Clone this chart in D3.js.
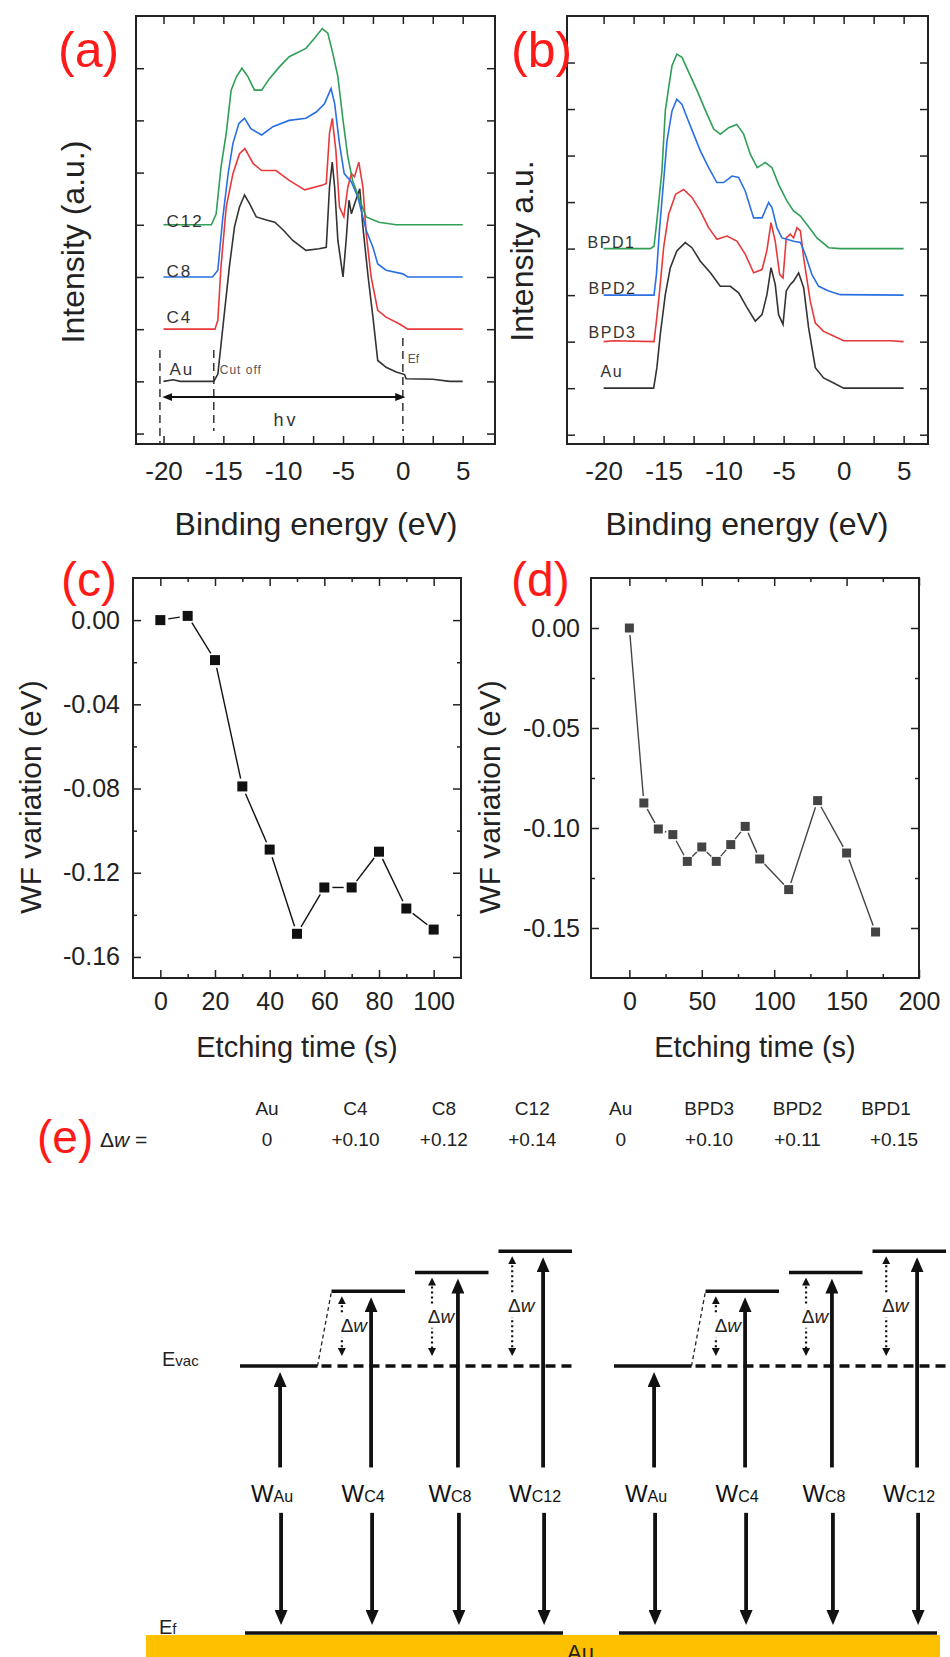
<!DOCTYPE html>
<html>
<head>
<meta charset="utf-8">
<script src="https://cdn.jsdelivr.net/npm/d3@7"></script>
<style>
  body { margin: 0; background: #fff; }
  svg text { font-family: "Liberation Sans", Arial, sans-serif; }
</style>
</head>
<body>
<div id="chart"></div>
<script>
const WIDTH = 950;
const HEIGHT = 1657;

// ---- (a) UPS spectra : [binding energy (eV), intensity (offset, a.u.)]
const auA = [[-20,1.0],[-19.2,1.03],[-18.6,1.0],[-15.8,1.0],[-15.46,1.14],[-15.04,2.04],[-14.5,3.19],[-14.07,3.96],[-13.65,4.34],[-13.23,4.57],[-12.8,4.4],[-12.25,4.15],[-11.4,4.09],[-10.7,4.05],[-10.0,3.9],[-9.2,3.7],[-8.1,3.51],[-7.0,3.54],[-6.4,3.57],[-6.13,4.72],[-5.9,5.2],[-5.7,4.72],[-5.43,3.7],[-5.0,3.0],[-4.74,3.7],[-4.5,4.47],[-4.3,4.21],[-4.04,4.4],[-3.6,4.69],[-3.34,3.96],[-2.9,3.0],[-2.5,2.23],[-2.1,1.4],[-1.4,1.27],[-0.56,1.18],[0.14,1.13],[0.28,1.05],[2.5,1.04],[3.9,1.0],[5,1.0]];
const c4A = [[-20,2],[-15.7,2],[-15.46,2.17],[-15.2,3.19],[-14.76,4.34],[-14.2,4.98],[-13.65,5.36],[-13.2,5.46],[-12.5,5.17],[-11.8,5.04],[-10.6,5.04],[-9.5,4.85],[-8.2,4.67],[-6.7,4.76],[-6.4,4.79],[-6.13,5.75],[-5.9,6.04],[-5.6,5.43],[-5.3,4.34],[-4.93,4.15],[-4.6,4.72],[-4.3,4.98],[-4.04,4.92],[-3.68,5.2],[-3.34,4.72],[-3.06,3.83],[-2.65,3.0],[-2.1,2.36],[-1.4,2.23],[-0.28,2.1],[0.42,2.0],[5,2.0]];
const c8A = [[-20,3],[-15.9,3],[-15.46,3.13],[-15.04,4.15],[-14.6,4.98],[-14.2,5.56],[-13.7,5.94],[-13.23,6.04],[-12.7,5.84],[-11.8,5.72],[-10.86,5.88],[-9.5,6.0],[-8.1,6.04],[-7.24,6.16],[-6.55,6.32],[-6.0,6.61],[-5.7,6.32],[-5.3,5.56],[-4.9,4.98],[-4.3,4.82],[-3.76,4.53],[-3.34,4.15],[-3.06,3.89],[-2.5,3.57],[-2.1,3.25],[-1.4,3.13],[0,3.06],[0.42,3.0],[5,3.0]];
const c12A = [[-20,4],[-16,4],[-15.6,4.21],[-15.2,5.1],[-14.76,5.75],[-14.35,6.58],[-13.9,6.84],[-13.45,7.0],[-12.95,6.84],[-12.4,6.58],[-11.8,6.58],[-11.15,6.8],[-10.3,7.03],[-9.5,7.22],[-8.1,7.38],[-7.4,7.57],[-6.74,7.76],[-6.27,7.67],[-5.85,7.28],[-5.43,6.84],[-5.0,6.0],[-4.6,5.3],[-4.2,4.85],[-3.6,4.47],[-3.06,4.15],[-2.0,4.05],[-0.56,4.0],[5,4.0]];
const labelsA = ["Au", "C4", "C8", "C12"];

// ---- (b) UPS spectra
const auB = [[-20,1.0],[-15.83,1.0],[-15.56,1.44],[-15.28,2.15],[-14.86,3.01],[-14.44,3.59],[-13.9,3.95],[-13.2,4.13],[-12.64,4.02],[-11.94,3.73],[-11.1,3.48],[-10.28,3.19],[-9.44,3.19],[-8.75,3.05],[-8.05,2.73],[-7.36,2.44],[-6.8,2.58],[-6.39,3.01],[-6.05,3.59],[-5.7,3.23],[-5.42,2.58],[-5.05,2.37],[-4.78,3.09],[-4.44,3.23],[-4.17,3.3],[-3.75,3.48],[-3.33,3.16],[-2.92,2.3],[-2.36,1.44],[-1.67,1.22],[-0.83,1.11],[0,1.0],[5,1.0]];
const bpd3B = [[-20,2.0],[-19.2,2.02],[-15.8,2.0],[-15.6,2.44],[-15.33,3.09],[-15.0,4.02],[-14.58,4.74],[-14.0,5.17],[-13.33,5.27],[-12.64,5.1],[-11.94,4.81],[-11.25,4.45],[-10.56,4.2],[-9.72,4.27],[-8.9,4.16],[-8.2,3.88],[-7.5,3.48],[-6.8,3.55],[-6.4,3.95],[-6.05,4.56],[-5.7,4.16],[-5.33,3.44],[-5.05,3.37],[-4.78,4.23],[-4.44,4.31],[-4.17,4.23],[-3.89,4.45],[-3.6,4.38],[-3.33,3.8],[-2.78,2.87],[-2.36,2.4],[-1.67,2.22],[-0.83,2.12],[0,2.02],[3.9,2.02],[5,2.0]];
const bpd2B = [[-20,3.0],[-15.8,3.0],[-15.6,3.44],[-15.33,4.45],[-15.0,5.45],[-14.72,6.31],[-14.3,6.96],[-13.9,7.21],[-13.47,7.1],[-13.05,6.82],[-12.5,6.46],[-11.94,6.1],[-11.25,5.74],[-10.56,5.42],[-10.0,5.42],[-9.3,5.56],[-8.75,5.53],[-8.2,5.24],[-7.5,4.66],[-6.8,4.66],[-6.25,4.99],[-5.97,4.88],[-5.56,4.45],[-5.14,4.23],[-4.72,4.2],[-4.17,4.16],[-3.6,4.13],[-3.2,3.88],[-2.64,3.44],[-2.08,3.19],[-1.25,3.09],[-0.28,3.01],[5,3.0]];
const bpd1B = [[-20,4.0],[-16.1,4.0],[-15.8,4.05],[-15.56,4.6],[-15.14,5.67],[-14.86,6.96],[-14.58,7.46],[-14.3,7.93],[-13.9,8.18],[-13.47,8.11],[-12.9,7.79],[-12.2,7.39],[-11.5,6.96],[-10.83,6.57],[-10.28,6.46],[-9.58,6.6],[-8.9,6.67],[-8.33,6.46],[-7.78,6.03],[-7.2,5.74],[-6.53,5.85],[-5.97,5.74],[-5.42,5.38],[-4.72,5.02],[-4.17,4.81],[-3.6,4.7],[-3.06,4.52],[-2.22,4.23],[-1.25,4.02],[-0.28,4.0],[5,4.0]];
const labelsB = ["Au", "BPD3", "BPD2", "BPD1"];

const energyTicks = [-20, -15, -10, -5, 0, 5];
const energyMinor = [-17.5, -12.5, -7.5, -2.5, 2.5];

// ---- (c) WF variation vs etching time
const etchC = [0, 10, 20, 30, 40, 50, 60, 70, 80, 90, 100];
const wfC = [0.000, 0.002, -0.019, -0.079, -0.109, -0.149, -0.127, -0.127, -0.110, -0.137, -0.147];
const timeTicksC = [0, 20, 40, 60, 80, 100];
const wfTicksC = [0, -0.04, -0.08, -0.12, -0.16];

// ---- (d)
const etchD = [0, 10, 20, 30, 40, 50, 60, 70, 80, 90, 110, 130, 150, 170];
const wfD = [0.000, -0.0875, -0.1005, -0.1033, -0.1167, -0.1095, -0.1167, -0.1083, -0.0992, -0.1155, -0.1308, -0.0863, -0.1125, -0.152];
const timeTicksD = [0, 50, 100, 150, 200];
const wfTicksD = [0, -0.05, -0.10, -0.15];

// ---- (e) work function shifts
const eNames = ["Au", "C4", "C8", "C12", "Au", "BPD3", "BPD2", "BPD1"];
const eDelta = ["0", "+0.10", "+0.12", "+0.14", "0", "+0.10", "+0.11", "+0.15"];
const wSubs = ["Au", "C4", "C8", "C12"];
const evacLevel = [1, 1.28, 1.35, 1.43];   // schematic vacuum levels (Ef = 0, Evac(Au) = 1)

const curveColors = ["#333333", "#e8393a", "#2a6fe4", "#2f9f57"];
const RED = "#ff1a1a";

let svg = d3.select("#chart")
    .append("svg")
    .attr("width", WIDTH)
    .attr("height", HEIGHT);

let defs = svg.append("defs");

function addMarker(id, len, wid, refX) {
    defs.append("marker")
        .attr("id", id)
        .attr("viewBox", `0 0 ${len} ${wid}`)
        .attr("refX", refX)
        .attr("refY", wid / 2)
        .attr("markerWidth", len)
        .attr("markerHeight", wid)
        .attr("markerUnits", "userSpaceOnUse")
        .attr("orient", "auto-start-reverse")
        .append("path")
        .attr("d", `M0,0L${len},${wid / 2}L0,${wid}Z`)
        .attr("fill", "#111");
}
addMarker("ah", 15, 13, 6);
addMarker("ahs", 8, 8, 4);
addMarker("ahm", 10, 8, 4);

// frame with inward ticks on all four sides
function frame(g, x, y, o) {
    const [x0, x1] = x.range();
    const [y0, y1] = y.range();

    const style = sel => {
        sel.select(".domain").remove();
        sel.selectAll("line").attr("stroke", "#222").attr("stroke-width", 1.5);
        sel.attr("font-family", "'Liberation Sans', Arial, sans-serif")
            .attr("font-size", o.fontSize || 26)
            .attr("fill", "#222");
        sel.selectAll("text").attr("fill", "#222");
    };

    g.append("g").attr("transform", `translate(0,${y0})`)
        .call(d3.axisBottom(x).tickValues(o.xMajor).tickSizeInner(-8).tickSizeOuter(0)
            .tickPadding(o.xPad).tickFormat(o.xFormat))
        .call(style);
    g.append("g").attr("transform", `translate(0,${y1})`)
        .call(d3.axisTop(x).tickValues(o.xMajor).tickSizeInner(-8).tickSizeOuter(0).tickFormat(""))
        .call(style);
    g.append("g").attr("transform", `translate(${x0},0)`)
        .call(d3.axisLeft(y).tickValues(o.yMajor).tickSizeInner(-8).tickSizeOuter(0)
            .tickPadding(o.yPad || 12).tickFormat(o.yFormat || ""))
        .call(style);
    g.append("g").attr("transform", `translate(${x1},0)`)
        .call(d3.axisRight(y).tickValues(o.yMajor).tickSizeInner(-8).tickSizeOuter(0).tickFormat(""))
        .call(style);

    if (o.xMinor) {
        [[y0, d3.axisBottom], [y1, d3.axisTop]].forEach(([yy, ax]) => {
            g.append("g").attr("transform", `translate(0,${yy})`)
                .call(ax(x).tickValues(o.xMinor).tickSizeInner(o.minorLen || -8).tickSizeOuter(0).tickFormat(""))
                .call(style);
        });
    }
    if (o.yMinor) {
        [[x0, d3.axisLeft], [x1, d3.axisRight]].forEach(([xx, ax]) => {
            g.append("g").attr("transform", `translate(${xx},0)`)
                .call(ax(y).tickValues(o.yMinor).tickSizeInner(o.minorLen || -8).tickSizeOuter(0).tickFormat(""))
                .call(style);
        });
    }

    g.append("rect")
        .attr("x", x0).attr("y", y1)
        .attr("width", x1 - x0).attr("height", y0 - y1)
        .attr("fill", "none")
        .attr("stroke", "#222")
        .attr("stroke-width", 2);
}

function axisTitle(x, y, text, size, rotate) {
    svg.append("text")
        .attr("transform", `translate(${x},${y})` + (rotate ? " rotate(-90)" : ""))
        .attr("text-anchor", "middle")
        .attr("font-size", size)
        .attr("fill", "#222")
        .text(text);
}

function panelLabel(x, y, text, size) {
    svg.append("text")
        .attr("x", x).attr("y", y)
        .attr("font-family", "Lato, 'Noto Sans', sans-serif")
        .attr("font-size", size)
        .attr("fill", RED)
        .text(text);
}

// ================= (a) =================
let xA = d3.scaleLinear().domain([-22.3, 7.7]).range([136, 495]);
let yA = d3.scaleLinear().domain([-0.2, 8.0]).range([444, 16]);
let gA = svg.append("g");

let lineA = d3.line().x(d => xA(d[0])).y(d => yA(d[1]));
[auA, c4A, c8A, c12A].forEach((s, i) => {
    gA.append("path")
        .attr("d", lineA(s))
        .attr("fill", "none")
        .attr("stroke", curveColors[i])
        .attr("stroke-width", 1.6);
});

// curve names
const dyA = [-6, -6, 0, 2];
[auA, c4A, c8A, c12A].forEach((s, i) => {
    gA.append("text")
        .attr("x", xA(s[0][0]) + (i === 0 ? 6 : 3))
        .attr("y", yA(s[0][1]) + dyA[i])
        .attr("font-size", 17)
        .attr("letter-spacing", 2)
        .attr("fill", "#333")
        .text(labelsA[i]);
});

// cut-off / Fermi edge annotations
[[-20.3, -0.2], [-15.8, 0.05], [0, 0.05]].forEach(([e, bot], i) => {
    gA.append("line")
        .attr("x1", xA(e)).attr("x2", xA(e))
        .attr("y1", yA(i === 2 ? 1.83 : 1.6)).attr("y2", yA(bot))
        .attr("stroke", "#333")
        .attr("stroke-width", 1.5)
        .attr("stroke-dasharray", "8,5");
});
gA.append("line")
    .attr("x1", xA(-19.6)).attr("x2", xA(-0.3))
    .attr("y1", yA(0.7)).attr("y2", yA(0.7))
    .attr("stroke", "#111")
    .attr("stroke-width", 2)
    .attr("marker-start", "url(#ahm)")
    .attr("marker-end", "url(#ahm)");
gA.append("text").attr("x", xA(-15.3)).attr("y", yA(1.15))
    .attr("font-size", 12).attr("letter-spacing", 1).attr("fill", "#555").text("Cut off");
gA.append("text").attr("x", xA(0.4)).attr("y", yA(1.35))
    .attr("font-size", 12).attr("fill", "#555").text("Ef");
gA.append("text").attr("x", xA(-10.8)).attr("y", yA(0.15))
    .attr("font-size", 18).attr("letter-spacing", 3).attr("fill", "#333").text("hv");

frame(gA, xA, yA, {
    xMajor: energyTicks, xMinor: energyMinor, xPad: 18, xFormat: d => String(d),
    yMajor: d3.range(0, 8)
});
axisTitle(316, 535, "Binding energy (eV)", 32, false);
axisTitle(84, 242, "Intensity (a.u.)", 32, true);
panelLabel(58, 67, "(a)", 50);

// ================= (b) =================
let xB = d3.scaleLinear().domain([-23.05, 7.03]).range([567, 928]);
let yB = d3.scaleLinear().domain([-0.2, 9.0]).range([444, 16]);
let gB = svg.append("g");

let lineB = d3.line().x(d => xB(d[0])).y(d => yB(d[1]));
[auB, bpd3B, bpd2B, bpd1B].forEach((s, i) => {
    gB.append("path")
        .attr("d", lineB(s))
        .attr("fill", "none")
        .attr("stroke", curveColors[i])
        .attr("stroke-width", 1.6);
});
const dxB = [-3, -15, -15, -16];
const dyB = [-11, -4, -1, -1];
[auB, bpd3B, bpd2B, bpd1B].forEach((s, i) => {
    gB.append("text")
        .attr("x", xB(s[0][0]) + dxB[i])
        .attr("y", yB(s[0][1]) + dyB[i])
        .attr("font-size", 16)
        .attr("letter-spacing", 1.5)
        .attr("fill", "#333")
        .text(labelsB[i]);
});

frame(gB, xB, yB, {
    xMajor: energyTicks, xMinor: energyMinor, xPad: 18, xFormat: d => String(d),
    yMajor: d3.range(0, 9)
});
axisTitle(747, 535, "Binding energy (eV)", 32, false);
axisTitle(533, 251, "Intensity a.u.", 32, true);
panelLabel(511, 67, "(b)", 50);

// ================= (c) & (d) =================
function scatterLine(g, x, y, xs, ys, color, gap, size) {
    const pts = xs.map((d, i) => [x(d), y(ys[i])]);
    const segs = d3.pairs(pts).map(([p, q]) => {
        const dx = q[0] - p[0], dy = q[1] - p[1];
        const len = Math.hypot(dx, dy);
        const ux = dx / len, uy = dy / len;
        return [p[0] + ux * gap, p[1] + uy * gap, q[0] - ux * gap, q[1] - uy * gap, len];
    }).filter(s => s[4] > 2 * gap);
    g.selectAll("line.seg").data(segs).join("line")
        .attr("class", "seg")
        .attr("x1", d => d[0]).attr("y1", d => d[1])
        .attr("x2", d => d[2]).attr("y2", d => d[3])
        .attr("stroke", color)
        .attr("stroke-width", 1.4);
    g.selectAll("rect.pt").data(pts).join("rect")
        .attr("class", "pt")
        .attr("x", d => d[0] - size / 2).attr("y", d => d[1] - size / 2)
        .attr("width", size).attr("height", size)
        .attr("fill", color);
}

let xC = d3.scaleLinear().domain([-10, 110]).range([133, 461]);
let yC = d3.scaleLinear().domain([-0.17, 0.02]).range([978, 578]);
let gC = svg.append("g");
scatterLine(gC, xC, yC, etchC, wfC, "#111", 8, 10);
frame(gC, xC, yC, {
    xMajor: timeTicksC, xMinor: [10, 30, 50, 70, 90], xPad: 14, xFormat: d => String(d),
    yMajor: wfTicksC, yMinor: [-0.02, -0.06, -0.10, -0.14], yPad: 13, yFormat: d => d.toFixed(2),
    minorLen: -4, fontSize: 25
});
axisTitle(297, 1057, "Etching time (s)", 29, false);
axisTitle(41, 797, "WF variation (eV)", 30, true);
panelLabel(61, 596, "(c)", 48);

let xD = d3.scaleLinear().domain([-26.5, 200]).range([591, 919]);
let yD = d3.scaleLinear().domain([-0.175, 0.025]).range([978, 578]);
let gD = svg.append("g");
scatterLine(gD, xD, yD, etchD, wfD, "#444", 7, 9);
frame(gD, xD, yD, {
    xMajor: timeTicksD, xMinor: [25, 75, 125, 175], xPad: 14, xFormat: d => String(d),
    yMajor: wfTicksD, yMinor: [-0.025, -0.075, -0.125], yPad: 11, yFormat: d => d.toFixed(2),
    minorLen: -4, fontSize: 25
});
axisTitle(755, 1057, "Etching time (s)", 29, false);
axisTitle(500, 797, "WF variation (eV)", 30, true);
panelLabel(511, 596, "(d)", 48);

// ================= (e) =================
panelLabel(37, 1153, "(e)", 46);

let eg = svg.append("g")
    .attr("font-family", "Lato, 'Noto Sans', sans-serif")
    .attr("font-size", 19)
    .attr("fill", "#222");

let dw = eg.append("text").attr("x", 100).attr("y", 1147)
    .attr("font-family", "'DejaVu Serif', 'Liberation Serif', serif").attr("font-size", 21);
dw.append("tspan").text("Δ");
dw.append("tspan").attr("font-style", "italic").text("w");
dw.append("tspan").text(" =");

let namePos = d3.scalePoint().domain(d3.range(eNames.length)).range([267, 886]);
eg.selectAll("text.name").data(eNames).join("text")
    .attr("class", "name")
    .attr("x", (d, i) => namePos(i)).attr("y", 1115)
    .attr("text-anchor", "middle")
    .text(d => d);
eg.selectAll("text.delta").data(eDelta).join("text")
    .attr("class", "delta")
    .attr("x", (d, i) => namePos(i) + (i === 7 ? 8 : 0)).attr("y", 1146)
    .attr("text-anchor", "middle")
    .text(d => d);

// gold substrate
let yE = d3.scaleLinear().domain([0, 1]).range([1633, 1366]);
svg.append("rect")
    .attr("x", 146).attr("y", yE(0) + 2)
    .attr("width", 940 - 146).attr("height", HEIGHT - yE(0))
    .attr("fill", "#ffc000");
svg.append("text")
    .attr("x", 567).attr("y", 1660)
    .attr("font-family", "Lato, sans-serif").attr("font-size", 22)
    .attr("fill", "#222").text("Au");

const arrowFrac = [0.48, 0.57, 0.61, 0.63];
const dotFrac = [0, 0.22, 0.30, 0.26];

function drawDiagram(band, showLabels) {
    const g = svg.append("g");
    const bw = band.bandwidth();
    const [r0, r1] = band.range();
    const lx0 = i => band(i) + (i ? 8 : 0);
    const lx1 = i => band(i) + bw - (i ? 2 : 6);
    const ax = i => band(i) + bw * arrowFrac[i];
    const dx = i => band(i) + bw * dotFrac[i];

    // vacuum levels
    g.selectAll("line.level").data(evacLevel).join("line")
        .attr("class", "level")
        .attr("x1", (d, i) => lx0(i)).attr("x2", (d, i) => lx1(i))
        .attr("y1", d => yE(d)).attr("y2", d => yE(d))
        .attr("stroke", "#111").attr("stroke-width", 3.5);
    // Evac of Au continued (dashed)
    g.append("line")
        .attr("x1", lx1(0) + 4).attr("x2", r1)
        .attr("y1", yE(1)).attr("y2", yE(1))
        .attr("stroke", "#111").attr("stroke-width", 3.5)
        .attr("stroke-dasharray", "10,6");
    g.append("line")
        .attr("x1", lx1(0)).attr("y1", yE(1))
        .attr("x2", lx0(1)).attr("y2", yE(evacLevel[1]))
        .attr("stroke", "#222").attr("stroke-width", 1.3)
        .attr("stroke-dasharray", "4,3");
    // Fermi level
    g.append("line")
        .attr("x1", r0 + 5).attr("x2", r1 - 11)
        .attr("y1", yE(0)).attr("y2", yE(0))
        .attr("stroke", "#111").attr("stroke-width", 3.5);

    evacLevel.forEach((lv, i) => {
        // up arrow to the vacuum level
        g.append("line")
            .attr("x1", ax(i)).attr("x2", ax(i))
            .attr("y1", yE(0.62)).attr("y2", yE(lv) + 6 + 9)
            .attr("stroke", "#111").attr("stroke-width", 3.8)
            .attr("marker-end", "url(#ah)");
        // down arrow to Ef
        g.append("line")
            .attr("x1", ax(i) + 1).attr("x2", ax(i) + 1)
            .attr("y1", yE(0.45)).attr("y2", yE(0) - 8 - 9)
            .attr("stroke", "#111").attr("stroke-width", 3.8)
            .attr("marker-end", "url(#ah)");
        // W label
        const t = g.append("text")
            .attr("x", ax(i) - 8).attr("y", yE(0.5) + 2)
            .attr("text-anchor", "middle")
            .attr("font-family", "'DejaVu Sans', sans-serif")
            .attr("fill", "#111");
        t.append("tspan").attr("font-size", 24).text("W");
        t.append("tspan").attr("font-size", 16).text(wSubs[i]);

        if (i > 0) {
            const top = yE(lv) + 5, bot = yE(1) - 10;
            g.append("line")
                .attr("x1", dx(i)).attr("x2", dx(i))
                .attr("y1", top + 4).attr("y2", bot - 4)
                .attr("stroke", "#111").attr("stroke-width", 2.2)
                .attr("stroke-dasharray", "2,3")
                .attr("marker-start", "url(#ahs)")
                .attr("marker-end", "url(#ahs)");
            const mid = (top + bot) / 2;
            const rx = dx(i) - 5;
            g.append("rect")
                .attr("x", rx).attr("y", mid - 11)
                .attr("width", Math.min(33, ax(i) - 3 - rx)).attr("height", 22)
                .attr("fill", "#fff");
            const dwt = g.append("text")
                .attr("x", dx(i) + (i === 1 ? 12 : 9)).attr("y", mid + 6)
                .attr("text-anchor", "middle")
                .attr("font-family", "'DejaVu Serif', 'Liberation Serif', serif")
                .attr("font-size", 19)
                .attr("fill", "#222");
            dwt.append("tspan").text("Δ");
            dwt.append("tspan").attr("font-style", "italic").text("w");
        }
    });

    if (showLabels) {
        const ev = g.append("text").attr("x", 162).attr("y", yE(1))
            .attr("font-family", "'DejaVu Sans', sans-serif").attr("fill", "#222");
        ev.append("tspan").attr("font-size", 20).text("E");
        ev.append("tspan").attr("font-size", 15).text("vac");
        const ef = g.append("text").attr("x", 159).attr("y", yE(0) + 1)
            .attr("font-family", "'DejaVu Sans', sans-serif").attr("fill", "#222");
        ef.append("tspan").attr("font-size", 20).text("E");
        ef.append("tspan").attr("font-size", 15).text("f");
    }
}

drawDiagram(d3.scaleBand().domain(d3.range(4)).range([240, 574]), true);
drawDiagram(d3.scaleBand().domain(d3.range(4)).range([614, 948]), false);
</script>
</body>
</html>
